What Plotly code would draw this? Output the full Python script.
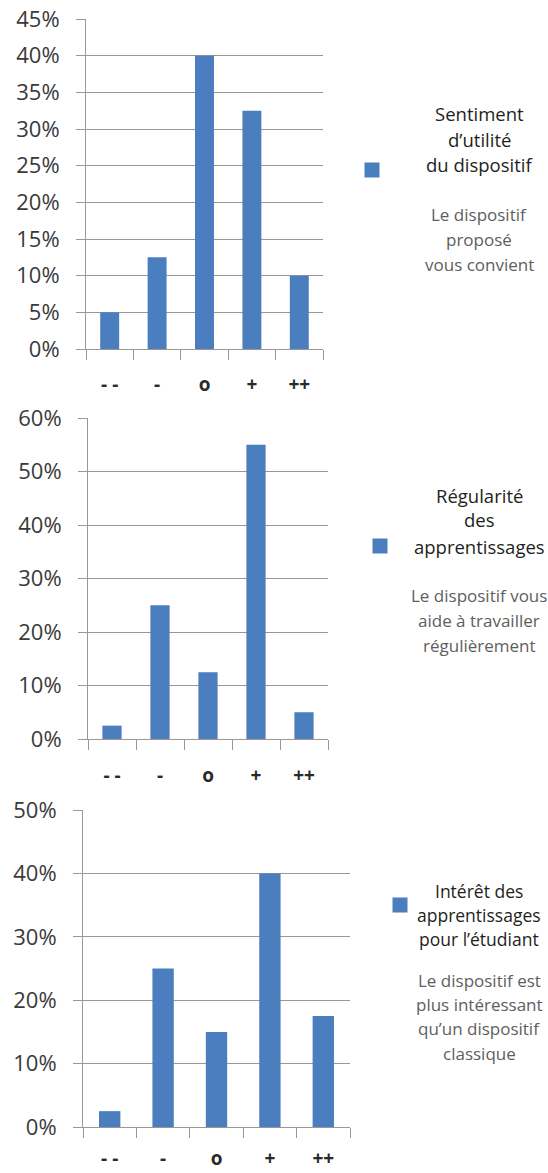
import plotly.graph_objects as go

# ---------------- data ----------------
categories = ["- -", "-", "o", "+", "++"]
utilite = [0.05, 0.125, 0.40, 0.325, 0.10]
regularite = [0.025, 0.25, 0.125, 0.55, 0.05]
interet = [0.025, 0.25, 0.15, 0.40, 0.175]

titles_1 = ["Sentiment", "d\u2019utilité", "du dispositif"]
subs_1 = ["Le dispositif", "proposé", "vous convient"]
titles_2 = ["Régularité", "des", "apprentissages"]
subs_2 = ["Le dispositif vous", "aide à travailler", "régulièrement"]
titles_3 = ["Intérêt des", "apprentissages", "pour l\u2019étudiant"]
subs_3 = ["Le dispositif est", "plus intéressant", "qu\u2019un dispositif", "classique"]

# ---------------- layout config ----------------
W, H = 548, 1173
BAR = "#4a7ebf"
GRID = "#9e9693"
TXT = "#3a3a3a"
FONT = "Open Sans"


def fx(x):
    return x / W


def fy(y):
    return 1 - y / H


panels = [
    dict(vals=utilite, x0=86, x1=323, ytop=19, ybot=349, ymax=0.45, dtick=0.05,
         titles=titles_1, subs=subs_1, t_y=[113, 139, 164], s_y=[215, 240, 265],
         tsize=18.5, sq=(372, 170, 15), xstand=18),
    dict(vals=regularite, x0=88, x1=328, ytop=418, ybot=739, ymax=0.60, dtick=0.10,
         titles=titles_2, subs=subs_2, t_y=[495, 520, 546], s_y=[595, 620, 645],
         tsize=18.5, sq=(380, 546, 15), xstand=19),
    dict(vals=interet, x0=83, x1=350, ytop=810, ybot=1127, ymax=0.50, dtick=0.10,
         titles=titles_3, subs=subs_3, t_y=[891, 915, 939], s_y=[980, 1004, 1028, 1053],
         tsize=17.5, sq=(400, 905, 15), xstand=14),
]

fig = go.Figure()
layout = dict(
    width=W, height=H,
    margin=dict(l=0, r=0, t=0, b=0, pad=0),
    paper_bgcolor="white", plot_bgcolor="white",
    showlegend=False, bargap=0.6,
    font=dict(family=FONT, color=TXT),
)
annotations = []
shapes = []

for i, p in enumerate(panels, start=1):
    sfx = "" if i == 1 else str(i)
    fig.add_trace(go.Bar(
        x=categories, y=p["vals"], marker=dict(color=BAR, line=dict(width=0)),
        xaxis="x" + sfx, yaxis="y" + sfx, hoverinfo="x+y",
    ))
    layout["xaxis" + sfx] = dict(
        domain=[fx(p["x0"]), fx(p["x1"])], anchor="y" + sfx, automargin=False,
        type="category", showline=True, linecolor=GRID, linewidth=1,
        ticks="outside", tickson="boundaries", ticklen=10, tickcolor=GRID,
        showgrid=False,
        tickfont=dict(family=FONT, size=19, color="#2a2a2a", weight="bold"),
        ticklabelstandoff=p["xstand"], fixedrange=True,
    )
    layout["yaxis" + sfx] = dict(
        domain=[fy(p["ybot"]), fy(p["ytop"])], anchor="x" + sfx, automargin=False,
        range=[0, p["ymax"]], dtick=p["dtick"], tick0=0, tickformat=".0%",
        showline=True, linecolor=GRID, linewidth=1,
        ticks="outside", ticklen=9, tickcolor=GRID,
        showgrid=True, gridcolor=GRID, gridwidth=1, zeroline=False,
        tickfont=dict(family=FONT, size=22, color=TXT),
        ticklabelstandoff=12, fixedrange=True,
    )
    for t, yy in zip(p["titles"], p["t_y"]):
        annotations.append(dict(
            text=t, xref="paper", yref="paper", x=fx(479), y=fy(yy),
            xanchor="center", yanchor="middle", showarrow=False,
            font=dict(family=FONT, size=p["tsize"], color="#231f20"),
        ))
    for t, yy in zip(p["subs"], p["s_y"]):
        annotations.append(dict(
            text=t, xref="paper", yref="paper", x=fx(479), y=fy(yy),
            xanchor="center", yanchor="middle", showarrow=False,
            font=dict(family=FONT, size=17, color="#5e5e5e"),
        ))
    cx, cy, s = p["sq"]
    shapes.append(dict(
        type="rect", xref="paper", yref="paper",
        x0=fx(cx - s / 2), x1=fx(cx + s / 2), y0=fy(cy + s / 2), y1=fy(cy - s / 2),
        fillcolor=BAR, line=dict(width=0),
    ))

layout["annotations"] = annotations
layout["shapes"] = shapes
fig.update_layout(**layout)
fig.write_html("out.html")
